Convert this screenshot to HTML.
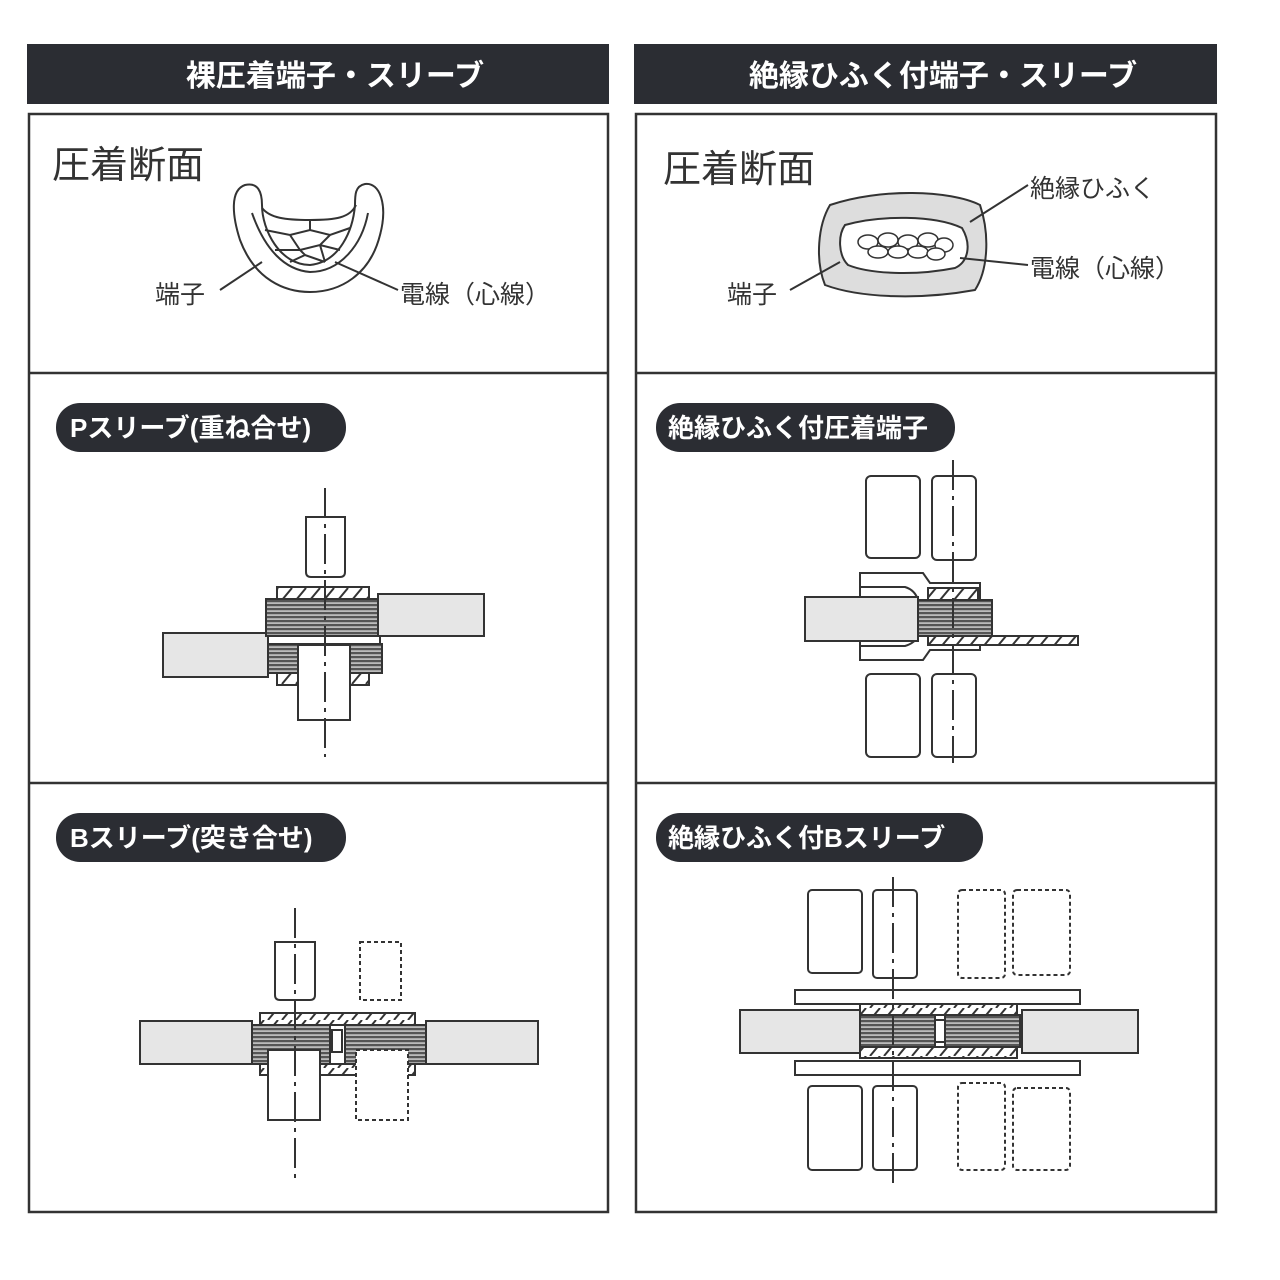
<!DOCTYPE html>
<html><head><meta charset="utf-8"><style>
html,body{margin:0;padding:0;background:#fff;}
svg{display:block;font-family:"Liberation Sans","Noto Sans CJK JP",sans-serif;}
</style></head><body>
<svg width="1280" height="1280" viewBox="0 0 1280 1280" xmlns="http://www.w3.org/2000/svg">
<defs>
<pattern id="strand" width="6" height="4" patternUnits="userSpaceOnUse"><rect width="6" height="4" fill="#bbb"/><rect y="0" width="6" height="2.2" fill="#555"/></pattern>
<pattern id="hatch" width="14" height="12" patternUnits="userSpaceOnUse"><rect width="14" height="12" fill="#fff"/><line x1="2" y1="12" x2="12" y2="0" stroke="#333" stroke-width="2"/></pattern>
</defs>
<g fill="#2b2d33">
<rect x="27" y="44" width="582" height="60"/>
<rect x="634" y="44" width="583" height="60"/>
</g>
<g fill="#fff" font-weight="bold" font-size="30" text-anchor="middle">
<text x="335" y="86">裸圧着端子・スリーブ</text>
<text x="943" y="86">絶縁ひふく付端子・スリーブ</text>
</g>
<g fill="none" stroke="#333" stroke-width="2.5">
<rect x="29" y="114" width="579" height="1098"/>
<rect x="636" y="114" width="580" height="1098"/>
<line x1="29" y1="373" x2="608" y2="373"/><line x1="29" y1="783" x2="608" y2="783"/>
<line x1="636" y1="373" x2="1216" y2="373"/><line x1="636" y1="783" x2="1216" y2="783"/>
</g>
<g fill="#333" font-size="38"><text x="52" y="178">圧着断面</text><text x="663" y="182">圧着断面</text></g>
<g fill="#333" font-size="25">
<text x="155" y="303">端子</text><text x="400" y="303">電線（心線）</text>
<text x="1030" y="197">絶縁ひふく</text><text x="1030" y="277">電線（心線）</text><text x="727" y="303">端子</text>
</g>
<g fill="#2b2d33">
<rect x="56" y="403" width="290" height="49" rx="24"/>
<rect x="56" y="813" width="290" height="49" rx="24"/>
<rect x="656" y="403" width="299" height="49" rx="24"/>
<rect x="656" y="813" width="327" height="49" rx="24"/>
</g>
<g fill="#fff" font-weight="bold" font-size="26">
<text x="70" y="437">Pスリーブ(重ね合せ)</text>
<text x="70" y="847">Bスリーブ(突き合せ)</text>
<text x="668" y="437">絶縁ひふく付圧着端子</text>
<text x="668" y="847">絶縁ひふく付Bスリーブ</text>
</g>
<g fill="none" stroke="#333" stroke-width="2">
<path d="M245 185 C230 190 232 215 240 240 C255 280 285 292 310 292 C340 292 370 275 380 235 C388 205 380 182 365 184 C355 186 355 195 355 205 C353 230 340 262 310 265 C280 265 262 230 262 205 C262 192 258 182 245 185 Z"/>
<path d="M252 213 C265 250 285 270 310 272 C340 272 362 245 368 213"/>
<path d="M262 208 C270 218 285 220 310 220 C335 220 350 218 356 205"/>
<path d="M265 230 L290 235 L310 230 L330 235 L350 228 M275 250 L300 250 L320 245 L340 250 M290 262 L305 255 L325 262 M290 235 L300 250 L305 255 M330 235 L320 245 L325 262 M310 220 L310 230"/>
<line x1="220" y1="290" x2="262" y2="262"/><line x1="335" y1="262" x2="398" y2="290"/>
</g>
<g stroke="#333" stroke-width="2">
<path d="M830 205 C880 188 950 190 980 205 C990 235 988 270 975 290 C920 300 860 298 825 285 C815 260 818 225 830 205 Z" fill="#ddd"/>
<path d="M845 225 C880 215 935 215 962 228 C972 245 968 262 955 268 C915 276 870 274 848 265 C838 255 838 235 845 225 Z" fill="#fff"/>
<g fill="#fff" stroke-width="1.5">
<ellipse cx="868" cy="242" rx="10" ry="7"/><ellipse cx="888" cy="240" rx="10" ry="7"/><ellipse cx="908" cy="242" rx="10" ry="7"/><ellipse cx="928" cy="240" rx="10" ry="7"/><ellipse cx="944" cy="245" rx="9" ry="7"/>
<ellipse cx="878" cy="252" rx="10" ry="6"/><ellipse cx="898" cy="252" rx="10" ry="6"/><ellipse cx="918" cy="252" rx="10" ry="6"/><ellipse cx="936" cy="254" rx="9" ry="6"/>
</g>
<g fill="none"><line x1="970" y1="222" x2="1028" y2="185"/><line x1="960" y1="258" x2="1028" y2="265"/><line x1="790" y1="290" x2="840" y2="262"/></g>
</g>
<g stroke="#333" stroke-width="2">
<path d="M306 517 H345 V572 Q345 577 340 577 H311 Q306 577 306 572 Z" fill="#fff"/>
<rect x="378" y="594" width="106" height="42" fill="#e6e6e6"/>
<rect x="163" y="633" width="105" height="44" fill="#e6e6e6"/>
<rect x="277" y="587" width="92" height="12" fill="url(#hatch)"/>
<rect x="266" y="599" width="112" height="37" fill="url(#strand)"/>
<rect x="268" y="636" width="112" height="8" fill="#fff"/>
<rect x="268" y="644" width="114" height="29" fill="url(#strand)"/>
<rect x="277" y="673" width="92" height="12" fill="url(#hatch)"/>
<rect x="298" y="645" width="52" height="75" fill="#fff"/>
</g>
<line x1="325" y1="488" x2="325" y2="757" stroke="#333" stroke-width="2" stroke-dasharray="30 6 4 6"/>
<g stroke="#333" stroke-width="2">
<path d="M275 942 H315 V995 Q315 1000 310 1000 H280 Q275 1000 275 995 Z" fill="#fff"/>
<rect x="360" y="942" width="41" height="58" fill="#fff" stroke-dasharray="4 3"/>
<rect x="140" y="1021" width="112" height="43" fill="#e6e6e6"/>
<rect x="426" y="1021" width="112" height="43" fill="#e6e6e6"/>
<rect x="260" y="1013" width="155" height="12" fill="url(#hatch)"/>
<rect x="252" y="1025" width="78" height="39" fill="url(#strand)"/>
<rect x="345" y="1025" width="81" height="39" fill="url(#strand)"/>
<rect x="332" y="1030" width="10" height="22" fill="#fff"/>
<rect x="260" y="1064" width="155" height="11" fill="url(#hatch)"/>
<rect x="268" y="1050" width="52" height="70" fill="#fff"/>
<rect x="356" y="1050" width="52" height="70" fill="#fff" stroke-dasharray="4 3"/>
</g>
<line x1="295" y1="908" x2="295" y2="1180" stroke="#333" stroke-width="2" stroke-dasharray="30 6 4 6"/>
<g stroke="#333" stroke-width="2" fill="#fff">
<rect x="866" y="476" width="54" height="82" rx="5"/>
<rect x="932" y="476" width="44" height="84" rx="5"/>
<rect x="866" y="674" width="54" height="83" rx="5"/>
<rect x="932" y="674" width="44" height="83" rx="5"/>
<path d="M860 573 H923 L930 583 H980 V650 H930 L923 660 H860 Z"/>
<path d="M860 587 H905 Q915 590 918 600 M860 646 H905 Q915 643 918 636" fill="none"/>
<rect x="805" y="597" width="113" height="44" fill="#e6e6e6"/>
<rect x="928" y="588" width="50" height="12" fill="url(#hatch)"/>
<rect x="918" y="600" width="74" height="36" fill="url(#strand)"/>
<rect x="928" y="636" width="150" height="9" fill="url(#hatch)"/>
</g>
<line x1="953" y1="460" x2="953" y2="763" stroke="#333" stroke-width="2" stroke-dasharray="30 6 4 6"/>
<g stroke="#333" stroke-width="2" fill="#fff">
<rect x="808" y="890" width="54" height="83" rx="4"/>
<rect x="873" y="890" width="44" height="88" rx="4"/>
<rect x="958" y="890" width="47" height="88" rx="4" stroke-dasharray="4 3"/>
<rect x="1013" y="890" width="57" height="85" rx="4" stroke-dasharray="4 3"/>
<rect x="795" y="990" width="285" height="14"/>
<rect x="795" y="1061" width="285" height="14"/>
<rect x="740" y="1010" width="120" height="43" fill="#e6e6e6"/>
<rect x="1022" y="1010" width="116" height="43" fill="#e6e6e6"/>
<rect x="860" y="1004" width="157" height="11" fill="url(#hatch)"/>
<rect x="860" y="1047" width="157" height="11" fill="url(#hatch)"/>
<rect x="860" y="1015" width="75" height="32" fill="url(#strand)"/>
<rect x="945" y="1015" width="75" height="32" fill="url(#strand)"/>
<rect x="935" y="1020" width="10" height="22"/>
<rect x="808" y="1086" width="54" height="84" rx="4"/>
<rect x="873" y="1086" width="44" height="84" rx="4"/>
<rect x="958" y="1083" width="47" height="87" rx="4" stroke-dasharray="4 3"/>
<rect x="1013" y="1088" width="57" height="82" rx="4" stroke-dasharray="4 3"/>
</g>
<line x1="893" y1="877" x2="893" y2="1185" stroke="#333" stroke-width="2" stroke-dasharray="30 6 4 6"/>
</svg>
</body></html>
